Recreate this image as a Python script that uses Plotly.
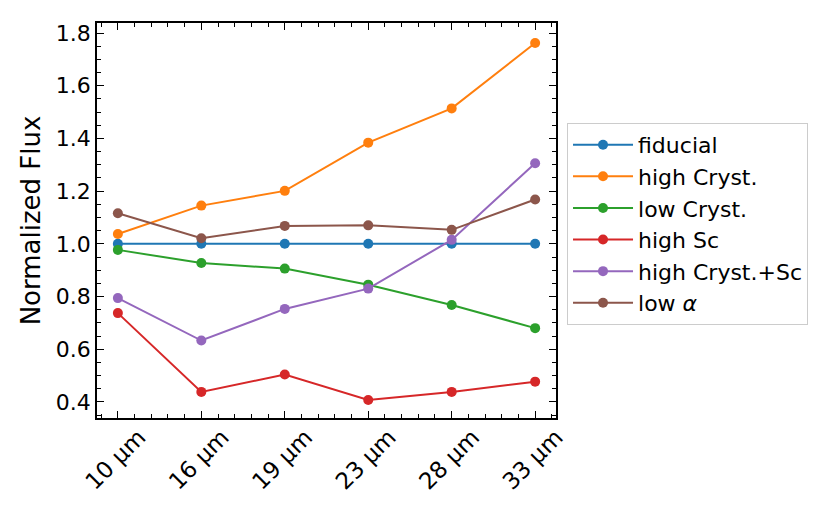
import plotly.graph_objects as go

# wavelength bands on the x axis
bands = ["10 μm", "16 μm", "19 μm", "23 μm", "28 μm", "33 μm"]
band_pos = [0, 1, 2, 3, 4, 5]

# normalized flux per model
fiducial = [1.0, 1.0, 1.0, 1.0, 1.0, 1.0]
high_cryst = [1.037, 1.145, 1.201, 1.384, 1.514, 1.762]
low_cryst = [0.977, 0.927, 0.906, 0.845, 0.768, 0.680]
high_sc = [0.737, 0.438, 0.504, 0.407, 0.438, 0.477]
high_cryst_sc = [0.794, 0.633, 0.753, 0.830, 1.015, 1.306]
low_alpha = [1.116, 1.021, 1.068, 1.070, 1.053, 1.168]

series = [
    ("fiducial", fiducial, "#1f77b4"),
    ("high Cryst.", high_cryst, "#ff7f0e"),
    ("low Cryst.", low_cryst, "#2ca02c"),
    ("high Sc", high_sc, "#d62728"),
    ("high Cryst.+Sc", high_cryst_sc, "#9467bd"),
    ("low <i>α</i>", low_alpha, "#8c564b"),
]

fig = go.Figure()
for name, vals, color in series:
    fig.add_trace(go.Scatter(
        x=band_pos, y=vals, name=name, mode="lines+markers",
        line=dict(color=color, width=2),
        marker=dict(color=color, size=10),
    ))

axis_common = dict(
    showline=True, linecolor="black", linewidth=1.5, mirror="allticks",
    ticks="inside", ticklen=7, tickwidth=1.3, tickcolor="black",
    showgrid=False, zeroline=False,
    tickfont=dict(family="DejaVu Sans", size=22, color="black"),
)

fig.update_xaxes(
    range=[-0.25, 5.25], tickvals=band_pos, ticktext=bands, tickangle=-45,
    minor=dict(dtick=0.2, tick0=0, ticks="inside", ticklen=4, tickwidth=1.1,
               tickcolor="black", showgrid=False),
    **axis_common,
)
# rotated labels are centred on the tick in the original, so shift them right
fig.update_xaxes(ticklabelshift=21, ticklabelstandoff=-5,
                 tickfont=dict(family="DejaVu Sans", size=23, color="black"))
fig.update_yaxes(
    range=[0.339, 1.838], tickvals=[0.4, 0.6, 0.8, 1.0, 1.2, 1.4, 1.6, 1.8],
    ticktext=["0.4", "0.6", "0.8", "1.0", "1.2", "1.4", "1.6", "1.8"],
    minor=dict(dtick=0.05, tick0=0, ticks="inside", ticklen=4, tickwidth=1.1,
               tickcolor="black", showgrid=False),
    title=dict(text="Normalized Flux", font=dict(family="DejaVu Sans", size=26, color="black"),
               standoff=8),
    **axis_common,
)

# page body adds ~8px offset, so margins are shifted to compensate
fig.update_layout(
    width=830, height=519,
    margin=dict(l=89, r=282, t=15, b=109),
    plot_bgcolor="white", paper_bgcolor="white",
    font=dict(family="DejaVu Sans", color="black"),
    legend=dict(
        x=1.024, y=0.747, xanchor="left", yanchor="top",
        bordercolor="#cccccc", borderwidth=1, bgcolor="white",
        font=dict(family="DejaVu Sans", size=22, color="black"),
        itemwidth=60,
    ),
)

fig.write_html("out.html")
